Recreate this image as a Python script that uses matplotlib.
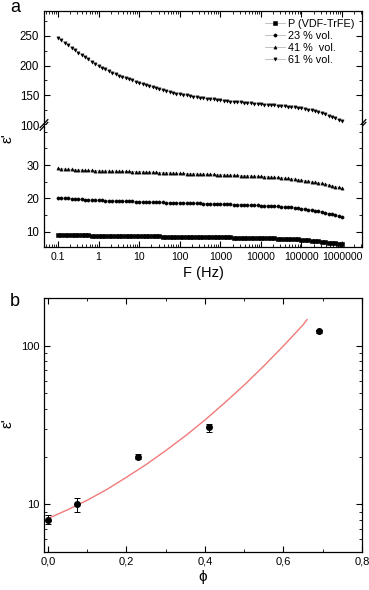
import numpy as np
import matplotlib
matplotlib.use('Agg')
import matplotlib.pyplot as plt
from matplotlib.ticker import FixedLocator, NullFormatter, LogLocator, MultipleLocator

plt.rcParams['font.family'] = ['Liberation Sans', 'DejaVu Sans']

# ---- panel a data: permittivity vs frequency (12 points per decade) ----
freq = np.logspace(-1, 6, 85)

eps_61 = [247, 242.5, 238.5, 234.5, 230, 226, 222,
          218, 214.5, 210.5, 206.5, 203, 199,
          196, 193.5, 191, 188, 185.5, 183,
          181, 179, 177, 175, 173, 171,
          169, 167, 165.5, 163.5, 162, 160,
          158.5, 157, 156, 154.5, 153, 152,
          151, 150, 149, 148, 147, 146,
          145, 144.5, 143.5, 143, 142, 141.5,
          141, 140, 139.5, 139, 138.5, 138,
          137.5, 137, 136.5, 136, 135.5, 135,
          134.5, 134, 133.5, 133, 132.5, 132,
          131.5, 131, 130, 129.5, 129, 128,
          127, 126, 124.5, 123, 121.5, 120,
          118, 116, 113.5, 111, 108.5, 106]

eps_41 = [29.0, 28.9, 28.8, 28.75, 28.7, 28.6, 28.55, 28.5, 28.45, 28.4, 28.4, 28.35, 28.3,
          28.3, 28.25, 28.25, 28.2, 28.2, 28.15, 28.15, 28.1, 28.1, 28.05, 28.05, 28.0,
          27.95, 27.9, 27.9, 27.85, 27.8, 27.75, 27.7, 27.7, 27.65, 27.6, 27.55, 27.5,
          27.5, 27.45, 27.4, 27.4, 27.35, 27.3, 27.3, 27.25, 27.2, 27.2, 27.15, 27.1,
          27.05, 27.0, 27.0, 26.95, 26.9, 26.85, 26.8, 26.8, 26.75, 26.7, 26.65, 26.6,
          26.55, 26.5, 26.4, 26.35, 26.3, 26.2, 26.1, 26.0, 25.9, 25.8, 25.65, 25.5,
          25.35, 25.2, 25.05, 24.85, 24.7, 24.5, 24.3, 24.05, 23.8, 23.55, 23.3, 23.0]

eps_23 = [20.2, 20.1, 20.0, 19.95, 19.9, 19.8, 19.75, 19.7, 19.6, 19.55, 19.5, 19.45, 19.4,
          19.35, 19.3, 19.3, 19.25, 19.2, 19.2, 19.15, 19.1, 19.1, 19.05, 19.0, 19.0,
          18.95, 18.9, 18.9, 18.85, 18.8, 18.8, 18.75, 18.7, 18.7, 18.65, 18.6, 18.6,
          18.55, 18.55, 18.5, 18.5, 18.45, 18.45, 18.4, 18.4, 18.35, 18.35, 18.3, 18.3,
          18.25, 18.2, 18.15, 18.1, 18.1, 18.05, 18.0, 17.95, 17.9, 17.9, 17.85, 17.8,
          17.75, 17.7, 17.65, 17.6, 17.55, 17.5, 17.4, 17.3, 17.25, 17.15, 17.0, 16.9,
          16.75, 16.6, 16.45, 16.3, 16.1, 15.9, 15.65, 15.4, 15.15, 14.9, 14.6, 14.3]

eps_p = [9.0, 8.98, 8.97, 8.95, 8.93, 8.92, 8.9, 8.88, 8.87, 8.85, 8.83, 8.82, 8.8,
         8.78, 8.77, 8.75, 8.73, 8.72, 8.7, 8.68, 8.67, 8.65, 8.63, 8.62, 8.6,
         8.59, 8.58, 8.57, 8.57, 8.56, 8.55, 8.54, 8.53, 8.52, 8.52, 8.51, 8.5,
         8.48, 8.47, 8.45, 8.43, 8.42, 8.4, 8.38, 8.37, 8.35, 8.33, 8.32, 8.3,
         8.28, 8.27, 8.25, 8.23, 8.22, 8.2, 8.18, 8.17, 8.15, 8.13, 8.12, 8.1,
         8.07, 8.03, 8.0, 7.97, 7.93, 7.9, 7.85, 7.8, 7.75, 7.7, 7.65, 7.6,
         7.5, 7.4, 7.3, 7.2, 7.1, 7.0, 6.87, 6.73, 6.6, 6.47, 6.33, 6.2]

series_labels = ['P (VDF-TrFE)', '23 % vol.', '41 %  vol.', '61 % vol.']
freq_ticks = [0.1, 1, 10, 100, 1000, 10000, 100000, 1000000]
freq_ticklabels = ['0.1', '1', '10', '100', '1000', '10000', '100000', '1000000']

# ---- panel b data: permittivity vs filler fraction ----
phi = [0.0, 0.075, 0.23, 0.41, 0.69]
eps_phi = [8.0, 10.0, 20.0, 30.5, 123]
eps_err = [0.5, 1.0, 0.8, 1.8, 2.0]
fit_phi = [0.0, 0.05, 0.1, 0.15, 0.2, 0.25, 0.3, 0.35, 0.4, 0.45, 0.5, 0.55, 0.6, 0.65, 0.66]
fit_eps = [8.13, 9.23, 10.6, 12.4, 14.8, 17.8, 21.8, 27.0, 34.0, 43.6, 56.5, 74.6, 99.8, 135.5, 146]

fig = plt.figure(figsize=(3.69, 5.90), dpi=100)

L, W = 44 / 369, 318 / 369
ax_up = fig.add_axes([L, 1 - 125 / 590, W, 114 / 590])
ax_lo = fig.add_axes([L, 1 - 247 / 590, W, 122 / 590])

mk = dict(ms=2.3, mfc='black', mec='black', mew=0.4, color='#a8a8a8', lw=0.5)
for ax in (ax_up, ax_lo):
    ax.plot(freq, eps_p, marker='s', label=series_labels[0], **mk)
    ax.plot(freq, eps_23, marker='o', label=series_labels[1], **mk)
    ax.plot(freq, eps_41, marker='^', label=series_labels[2], **mk)
    ax.plot(freq, eps_61, marker='v', label=series_labels[3], **mk)
    ax.set_xscale('log')
    ax.set_xlim(0.045, 3.1e6)
    ax.xaxis.set_major_locator(FixedLocator(freq_ticks))
    ax.xaxis.set_minor_locator(LogLocator(base=10, subs=np.arange(2, 10), numticks=20))
    ax.tick_params(which='both', direction='in', top=True, right=True, labelsize=8.3)
    ax.tick_params(axis='x', labelsize=7.6)
    ax.tick_params(which='major', length=4, width=0.8)
    ax.tick_params(which='minor', length=2, width=0.6)
    for s in ax.spines.values():
        s.set_linewidth(0.9)

ax_up.set_ylim(100, 292)
ax_up.yaxis.set_major_locator(FixedLocator([100, 150, 200, 250]))
ax_up.yaxis.set_minor_locator(MultipleLocator(25))
ax_up.spines['bottom'].set_visible(False)
ax_up.tick_params(which='both', bottom=False, labelbottom=False)

ax_lo.set_ylim(5.4, 42)
ax_lo.yaxis.set_major_locator(FixedLocator([10, 20, 30]))
ax_lo.yaxis.set_minor_locator(MultipleLocator(5))
ax_lo.spines['top'].set_visible(False)
ax_lo.tick_params(which='both', top=False)
ax_lo.set_xticklabels(freq_ticklabels)
ax_lo.xaxis.set_minor_formatter(NullFormatter())
ax_lo.set_xlabel('F (Hz)', fontsize=10.5, labelpad=3)

# axis break marks
for xb in (0, 1):
    for dy in (-0.012, 0.012):
        ax_up.plot([xb - 0.012, xb + 0.012], [dy - 0.035, dy + 0.035],
                   transform=ax_up.transAxes, color='black', lw=0.9, clip_on=False)

leg = ax_up.legend(loc='upper right', frameon=False, fontsize=7.8, handlelength=1.8,
                   handletextpad=0.3, labelspacing=0.2, borderaxespad=0.3)

fig.text(8 / 369, 1 - 138 / 590, "ε'", rotation=90, fontsize=11, ha='center', va='center')
fig.text(15 / 369, 1 - 8 / 590, 'a', fontsize=13, ha='center', va='center')

# ---- panel b ----
axb = fig.add_axes([L, 1 - 552 / 590, W, 254 / 590])
axb.plot(fit_phi, fit_eps, color='#f07a7a', lw=1.0)
axb.errorbar(phi, eps_phi, yerr=eps_err, fmt='o', ms=4, color='black',
             ecolor='black', elinewidth=0.7, capsize=2, capthick=0.7)
axb.set_yscale('log')
axb.set_ylim(5, 200)
axb.set_xlim(-0.01, 0.8)
axb.xaxis.set_major_locator(FixedLocator([0.0, 0.2, 0.4, 0.6, 0.8]))
axb.xaxis.set_minor_locator(MultipleLocator(0.1))
axb.set_xticklabels(['0,0', '0,2', '0,4', '0,6', '0,8'])
axb.yaxis.set_major_locator(FixedLocator([10, 100]))
axb.yaxis.set_minor_locator(LogLocator(base=10, subs=np.arange(2, 10), numticks=20))
axb.yaxis.set_minor_formatter(NullFormatter())
axb.set_yticklabels(['10', '100'])
axb.tick_params(which='both', direction='in', top=True, right=True, labelsize=8)
axb.tick_params(which='major', length=4, width=0.8)
axb.tick_params(which='minor', length=2, width=0.6)
for s in axb.spines.values():
    s.set_linewidth(0.9)
axb.set_xlabel('ϕ', fontsize=11, labelpad=2)

fig.text(8 / 369, 1 - 423 / 590, "ε'", rotation=90, fontsize=11, ha='center', va='center')
fig.text(15 / 369, 1 - 302 / 590, 'b', fontsize=13, ha='center', va='center')

fig.savefig('out.png', dpi=100)
